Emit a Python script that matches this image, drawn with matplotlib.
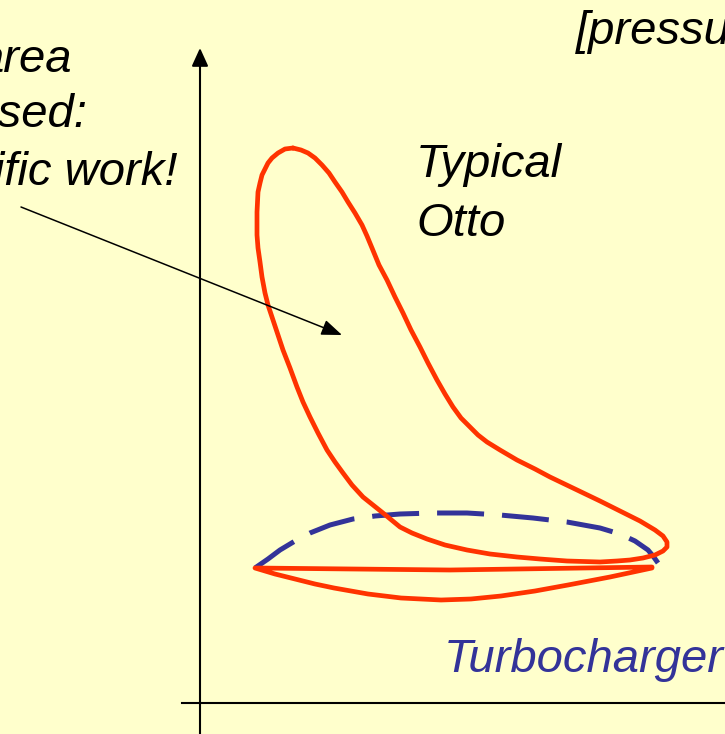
import matplotlib
matplotlib.use("Agg")
import matplotlib.pyplot as plt

# p-V sketch, units: V to the right of the p axis, p above the V axis
# main (high pressure) loop: from the peak down the expansion line, round the
# right hand curl and back up the compression line to the peak
otto_v = [93, 101, 108, 115, 122, 129, 135, 142, 148, 155, 162, 167, 172, 179, 187, 195, 203, 211,
          220, 228, 237, 245, 253, 261, 270, 278, 287, 300, 317, 335, 350, 375, 400, 420, 440, 455,
          463, 467, 467, 463, 455, 443, 430, 417,
          400, 367, 340, 317, 290, 267, 245, 227, 212, 200, 183, 173, 163, 152, 143, 135, 127, 118,
          110, 103, 97, 90, 83, 78, 73, 68, 65, 62, 60, 58, 57, 57, 58, 60, 62, 68, 72, 78, 85, 93]
otto_p = [555, 553, 550, 545, 538, 530, 521, 511, 501, 490, 478, 467, 455, 438, 423, 406, 390, 373,
          356, 340, 323, 309, 296, 285, 276, 268, 261, 253, 243, 234, 226, 214, 202, 192, 182, 173,
          167, 161, 156, 152, 148, 145, 143, 142,
          141, 142, 144, 146, 149, 153, 158, 164, 170, 176, 190, 198, 206, 218, 230, 241, 253, 270,
          286, 301, 316, 335, 353, 368, 383, 398, 410, 426, 441, 455, 468, 491, 511, 520, 528, 540,
          545, 550, 554, 555]

# gas exchange loop of the Otto engine
pump_v = [452, 250, 55, 75, 95, 115, 134, 168, 201, 241, 271, 301, 335, 368, 410, 452]
pump_p = [136, 133, 135, 129, 124, 119, 115, 109, 105, 103, 104, 107, 112, 118, 126, 135]

# turbocharged gas exchange line
turbo_v = [55, 68, 80, 95, 110, 130, 153, 175, 200, 233, 267, 300, 333, 367, 400, 420, 435, 448, 453, 458]
turbo_p = [135, 144, 153, 162, 170, 178, 184, 187, 189, 190, 190, 188, 185, 181, 175, 169, 162, 153, 147, 140]

bg = "#FFFFCC"
red = "#FF3300"
blue = "#333399"
font = ["Liberation Sans", "DejaVu Sans"]

fig = plt.figure(figsize=(7.25, 7.34), dpi=100, facecolor=bg)
ax = fig.add_axes([0, 0, 1, 1])
ax.set_facecolor(bg)
ax.set_xlim(-200, 525)
ax.set_ylim(-31, 703)
ax.axis("off")

# axes of the diagram
ax.annotate("", xy=(0, 655), xytext=(0, -40),
            arrowprops=dict(arrowstyle="-|>,head_length=1.1,head_width=0.5", color="black",
                            lw=1.5, mutation_scale=10, shrinkA=0, shrinkB=0))
ax.plot([-18, 540], [0, 0], color="black", lw=1.5, clip_on=False)

# curves
ax.plot(turbo_v, turbo_p, color=blue, lw=3.6, linestyle=(0, (9.4, 3.6)), dash_capstyle="butt")
ax.plot(otto_v, otto_p, color=red, lw=3.4, solid_joinstyle="round", solid_capstyle="round")
ax.plot(pump_v, pump_p, color=red, lw=3.4, solid_joinstyle="round", solid_capstyle="round")

# pointer into the loop
ax.annotate("", xy=(142, 368), xytext=(-179, 496),
            arrowprops=dict(arrowstyle="-|>,head_length=1.25,head_width=0.48", color="black",
                            lw=1.1, mutation_scale=10, shrinkA=0, shrinkB=0))

txt = dict(fontsize=34, style="italic", family=font, va="baseline")
ax.text(216, 526, "Typical", ha="left", **txt)
ax.text(216, 467, "Otto", ha="left", **txt)
ax.text(244, 31, "Turbocharger", ha="left", color=blue, **txt)
ax.text(376, 659, "[pressure", ha="left", **txt)
ax.text(-128, 631, "area", ha="right", **txt)
ax.text(-113, 576, "increased:", ha="right", **txt)
ax.text(-22, 518, "specific work!", ha="right", **txt)

fig.savefig("out.png", dpi=100, facecolor=bg)
